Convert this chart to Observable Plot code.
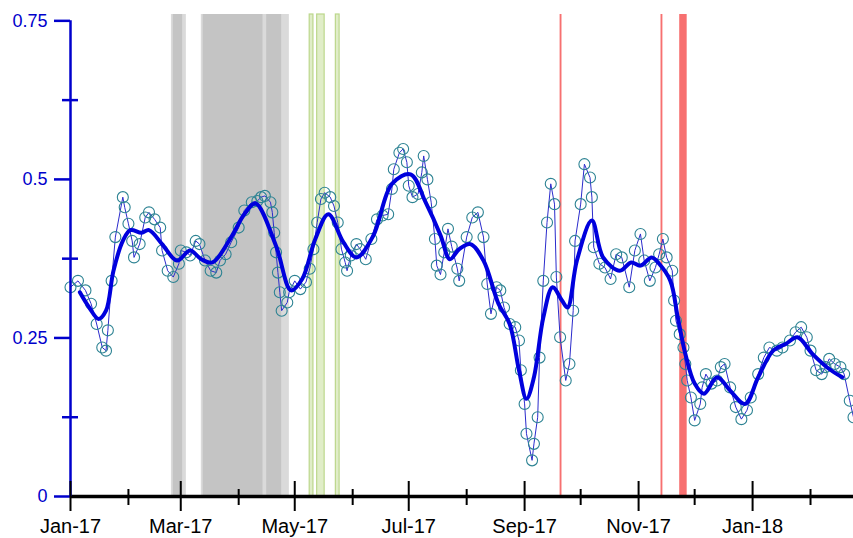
<!DOCTYPE html>
<html><head><meta charset="utf-8">
<script src="https://cdn.jsdelivr.net/npm/d3@7"></script>
<script src="https://cdn.jsdelivr.net/npm/@observablehq/plot@0.6"></script>
<style>body{margin:0;background:#fff;} #chart{width:853px;height:538px;}</style>
</head><body><div id="chart"></div>
<script>
const rawDates = ["2017-01-01","2017-01-05","2017-01-09","2017-01-12","2017-01-15","2017-01-18","2017-01-20","2017-01-21","2017-01-23","2017-01-25",
"2017-01-29","2017-01-30","2017-02-01","2017-02-03","2017-02-04","2017-02-07","2017-02-10","2017-02-12","2017-02-15","2017-02-18",
"2017-02-19","2017-02-22","2017-02-25","2017-02-28","2017-03-01","2017-03-04","2017-03-06","2017-03-09","2017-03-11","2017-03-14",
"2017-03-17","2017-03-20","2017-03-22","2017-03-25","2017-03-28","2017-04-01","2017-04-04","2017-04-08","2017-04-11","2017-04-13",
"2017-04-15","2017-04-18","2017-04-19","2017-04-20","2017-04-21","2017-04-22","2017-04-23","2017-04-24","2017-04-27","2017-04-28",
"2017-05-01","2017-05-04","2017-05-07","2017-05-09","2017-05-11","2017-05-13","2017-05-15","2017-05-17","2017-05-20","2017-05-22",
"2017-05-24","2017-05-26","2017-05-28","2017-05-29","2017-05-31","2017-06-03","2017-06-05","2017-06-08","2017-06-11","2017-06-14",
"2017-06-17","2017-06-20","2017-06-22","2017-06-23","2017-06-26","2017-06-28","2017-06-30","2017-07-01","2017-07-03","2017-07-06",
"2017-07-08","2017-07-09","2017-07-11","2017-07-13","2017-07-15","2017-07-16","2017-07-18","2017-07-20","2017-07-22","2017-07-24",
"2017-07-27","2017-07-28","2017-08-01","2017-08-04","2017-08-07","2017-08-10","2017-08-12","2017-08-14","2017-08-17","2017-08-19",
"2017-08-21","2017-08-24","2017-08-27","2017-08-29","2017-08-30","2017-09-01","2017-09-02","2017-09-05","2017-09-06","2017-09-08",
"2017-09-09","2017-09-11","2017-09-13","2017-09-15","2017-09-17","2017-09-18","2017-09-20","2017-09-23","2017-09-25","2017-09-27",
"2017-09-28","2017-10-01","2017-10-03","2017-10-06","2017-10-07","2017-10-08","2017-10-11","2017-10-14","2017-10-17","2017-10-20",
"2017-10-23","2017-10-27","2017-10-30","2017-11-02","2017-11-04","2017-11-07","2017-11-10","2017-11-12","2017-11-14","2017-11-16",
"2017-11-19","2017-11-20","2017-11-21","2017-11-23","2017-11-25","2017-11-26","2017-11-27","2017-11-29","2017-12-01","2017-12-04",
"2017-12-05","2017-12-07","2017-12-10","2017-12-13","2017-12-15","2017-12-17","2017-12-20","2017-12-23","2017-12-26","2017-12-29",
"2017-12-31","2018-01-04","2018-01-07","2018-01-10","2018-01-14","2018-01-17","2018-01-21","2018-01-24","2018-01-27","2018-01-30",
"2018-02-01","2018-02-04","2018-02-07","2018-02-09","2018-02-11","2018-02-14","2018-02-17","2018-02-19","2018-02-22","2018-02-24"];
const rawValues = [0.330,0.340,0.325,0.304,0.272,0.235,0.230,0.262,0.340,0.409,
0.472,0.456,0.430,0.403,0.377,0.398,0.440,0.448,0.437,0.424,
0.388,0.356,0.346,0.367,0.388,0.385,0.380,0.403,0.398,0.372,
0.356,0.353,0.372,0.382,0.401,0.424,0.451,0.464,0.466,0.472,
0.474,0.464,0.448,0.416,0.385,0.353,0.322,0.293,0.306,0.322,
0.340,0.327,0.338,0.359,0.390,0.432,0.469,0.479,0.472,0.458,
0.432,0.390,0.369,0.356,0.380,0.398,0.390,0.374,0.406,0.437,
0.443,0.445,0.485,0.516,0.542,0.548,0.527,0.490,0.472,0.477,
0.511,0.537,0.500,0.464,0.406,0.364,0.350,0.385,0.422,0.394,
0.359,0.340,0.409,0.440,0.448,0.409,0.335,0.288,0.330,0.325,
0.298,0.272,0.267,0.246,0.199,0.146,0.099,0.057,0.083,0.125,
0.219,0.340,0.432,0.493,0.461,0.346,0.251,0.183,0.209,0.293,
0.403,0.461,0.524,0.503,0.472,0.393,0.367,0.361,0.343,0.382,
0.377,0.330,0.388,0.414,0.372,0.340,0.361,0.382,0.406,0.377,
0.356,0.309,0.277,0.256,0.235,0.209,0.183,0.156,0.120,0.146,
0.172,0.193,0.178,0.183,0.204,0.209,0.172,0.141,0.122,0.136,
0.156,0.193,0.219,0.235,0.230,0.235,0.246,0.259,0.267,0.251,
0.230,0.199,0.193,0.204,0.217,0.209,0.204,0.193,0.151,0.125];

const smoothDates = ["2017-01-06","2017-01-11","2017-01-16","2017-01-20","2017-01-24","2017-01-29","2017-02-02","2017-02-08","2017-02-12","2017-02-19",
"2017-02-27","2017-03-06","2017-03-12","2017-03-18","2017-03-28","2017-04-04","2017-04-10","2017-04-21","2017-04-29","2017-05-05",
"2017-05-12","2017-05-19","2017-05-27","2017-06-03","2017-06-12","2017-06-22","2017-07-02","2017-07-10","2017-07-18","2017-07-23",
"2017-07-28","2017-08-03","2017-08-10","2017-08-18","2017-08-24","2017-08-29","2017-09-02","2017-09-06","2017-09-11","2017-09-16",
"2017-09-21","2017-09-24","2017-09-29","2017-10-07","2017-10-13","2017-10-22","2017-10-28","2017-11-02","2017-11-08","2017-11-12",
"2017-11-18","2017-11-22","2017-11-26","2017-12-01","2017-12-06","2017-12-13","2017-12-20","2017-12-28","2018-01-04","2018-01-12",
"2018-01-19","2018-01-25","2018-02-02","2018-02-11","2018-02-18"];
const smoothValues = [0.322,0.298,0.280,0.293,0.356,0.403,0.420,0.416,0.420,0.398,
0.372,0.388,0.374,0.369,0.409,0.445,0.462,0.395,0.325,0.343,
0.406,0.445,0.401,0.377,0.411,0.493,0.508,0.464,0.412,0.374,
0.390,0.398,0.372,0.304,0.272,0.199,0.154,0.188,0.282,0.330,
0.309,0.298,0.372,0.435,0.377,0.356,0.369,0.364,0.377,0.367,
0.340,0.282,0.225,0.178,0.162,0.188,0.167,0.146,0.188,0.230,
0.241,0.251,0.225,0.201,0.188];

const grayLightStarts = ["2017-02-24","2017-03-12","2017-04-14","2017-04-24"];
const grayLightEnds   = ["2017-03-04","2017-04-15","2017-04-28","2017-04-28"];
const grayStarts = ["2017-02-25","2017-03-13","2017-04-16"];
const grayEnds   = ["2017-03-02","2017-04-14","2017-04-24"];
const greenStarts = ["2017-05-09","2017-05-13","2017-05-23"];
const greenEnds   = ["2017-05-11","2017-05-17","2017-05-25"];
const redStarts = ["2017-09-20","2017-11-13","2017-11-23"];
const redEnds   = ["2017-09-21","2017-11-14","2017-11-27"];

const yTicks = [0, 0.25, 0.5, 0.75];
const yMinorTicks = [0.125, 0.375, 0.625];
const xLabelTicks = ["2017-01-01","2017-03-01","2017-05-01","2017-07-01","2017-09-01","2017-11-01","2018-01-01"];
const xMinorTicks = ["2017-02-01","2017-04-01","2017-06-01","2017-08-01","2017-10-01","2017-12-01","2018-02-01"];
const xDomain = ["2017-01-01","2018-02-24"];

const P = d3.isoParse;
const raw = rawDates.map((d, i) => ({date: P(d), value: rawValues[i]}));
const smooth = smoothDates.map((d, i) => ({date: P(d), value: smoothValues[i]}));
const band = (s, e) => s.map((d, i) => ({x1: P(d), x2: P(e[i])}));

const chart = Plot.plot({
  width: 853, height: 538,
  marginLeft: 70, marginRight: 0, marginTop: 14, marginBottom: 42,
  style: {fontFamily: "'Liberation Sans', Arial, sans-serif", background: "white", overflow: "visible"},
  x: {type: "utc", domain: xDomain.map(P), label: null},
  y: {domain: [0, 0.76], label: null},
  marks: [
    Plot.rect(band(grayLightStarts, grayLightEnds), {x1: "x1", x2: "x2", fill: "#dadada"}),
    Plot.rect(band(grayStarts, grayEnds), {x1: "x1", x2: "x2", fill: "#c4c4c4"}),
    Plot.rect(band(greenStarts, greenEnds), {x1: "x1", x2: "x2", fill: "#e0edc8", stroke: "#bcd78c", strokeWidth: 1.2}),
    Plot.rect(band(redStarts, redEnds), {x1: "x1", x2: "x2", fill: "#f77070"}),
    Plot.line(raw, {x: "date", y: "value", stroke: "#2b2bcc", strokeWidth: 1}),
    Plot.dot(raw, {x: "date", y: "value", r: 5.5, stroke: "#2d8393", strokeWidth: 1.1, fill: "none"}),
    Plot.line(smooth, {x: "date", y: "value", stroke: "#0000dd", strokeWidth: 4, curve: "catmull-rom"}),
    Plot.ruleY([yTicks[0]], {stroke: "black", strokeWidth: 3.5}),
    Plot.ruleX([P(xDomain[0])], {y1: yTicks[0], y2: yTicks[yTicks.length - 1], stroke: "#0000cc", strokeWidth: 2.5}),
    Plot.axisY({ticks: yTicks, tickSize: 16, tickPadding: 7, fontSize: 18, color: "#0000cc", strokeWidth: 2.5, tickFormat: d => String(d), label: null}),
    Plot.tickY(yMinorTicks, {y: d => d, stroke: "#0000cc", strokeWidth: 2.5, insetLeft: -8, insetRight: 775}),
    Plot.axisX({ticks: xLabelTicks.map(P), tickSize: 15, tickPadding: 7, fontSize: 20, tickFormat: d3.utcFormat("%b-%y"), strokeWidth: 2, color: "black", label: null}),
    Plot.tickX(xLabelTicks.map(P), {x: d => d, insetTop: 467, stroke: "black", strokeWidth: 2}),
    Plot.tickX(xMinorTicks.map(P), {x: d => d, insetTop: 475, insetBottom: -9, stroke: "black", strokeWidth: 2})
  ]
});
document.getElementById("chart").appendChild(chart);
</script>
</body></html>
